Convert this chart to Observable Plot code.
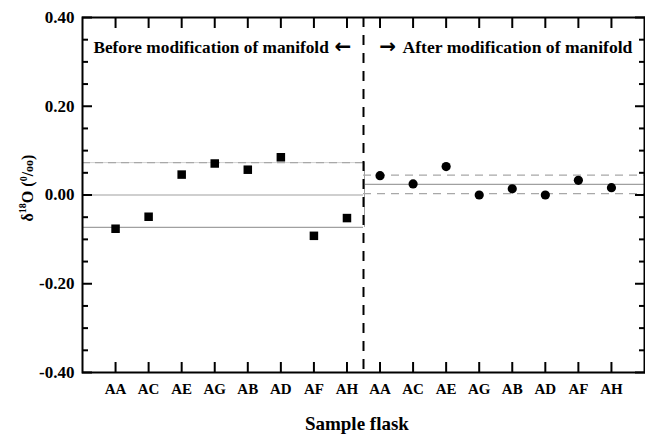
<!DOCTYPE html>
<html>
<head>
<meta charset="utf-8">
<script src="https://cdn.jsdelivr.net/npm/d3@7"></script>
<script src="https://cdn.jsdelivr.net/npm/@observablehq/plot@0.6"></script>
<style>
  html, body { margin: 0; padding: 0; background: white; }
</style>
</head>
<body>
<div id="chart"></div>
<script>
// ---- data ----
const categories = ["AA", "AC", "AE", "AG", "AB", "AD", "AF", "AH"];
const beforeValues = [-0.076, -0.049, 0.046, 0.071, 0.057, 0.085, -0.092, -0.052];
const afterValues = [0.0435, 0.025, 0.064, 0.000, 0.014, 0.000, 0.033, 0.0165];
const beforeStats = [0.000, 0.073];   // mean, sd
const afterStats = [0.024, 0.021];    // mean, sd
const yMajorTicks = [-0.4, -0.2, 0, 0.2, 0.4];
const yMinorTicks = [-0.35, -0.3, -0.25, -0.15, -0.1, -0.05, 0.05, 0.1, 0.15, 0.25, 0.3, 0.35];
const beforeLabel = "Before modification of manifold";
const afterLabel = "After modification of manifold";
const arrows = ["\u2190", "\u2192"];
const xLabel = "Sample flask";

// ---- table built from the arrays ----
const nB = categories.length;
const beforeData = beforeValues.map((v, i) => ({pos: i, cat: categories[i], value: v}));
const afterData = afterValues.map((v, i) => ({pos: nB + i, cat: categories[i], value: v}));
const allCats = categories.concat(categories);
const xPositions = d3.range(allCats.length);
const split = nB - 0.5;
const xMin = -1, xMax = 2 * nB;

const font = "Liberation Serif, Times New Roman, serif";
const arrowFont = "DejaVu Sans, sans-serif";

const chart = Plot.plot({
  width: 645,
  height: 436,
  marginLeft: 82,
  marginTop: 17,
  marginRight: 1,
  marginBottom: 64,
  x: {domain: [xMin, xMax], axis: null},
  y: {domain: [-0.4, 0.4], axis: null},
  style: {fontFamily: font, fontWeight: "bold", color: "black", background: "white"},
  marks: [
    // before mean and +/- sd lines
    Plot.ruleY([beforeStats[0]], {x1: xMin, x2: split, stroke: "#a0a0a0", strokeWidth: 1.2}),
    Plot.ruleY([beforeStats[0] + beforeStats[1]], {x1: xMin, x2: split, stroke: "#d0d0d0", strokeWidth: 1}),
    Plot.ruleY([beforeStats[0] + beforeStats[1]], {x1: xMin, x2: split, stroke: "#a8a8a8", strokeWidth: 1.2, strokeDasharray: "8,5"}),
    Plot.ruleY([beforeStats[0] - beforeStats[1]], {x1: xMin, x2: split, stroke: "#a0a0a0", strokeWidth: 1.2}),
    Plot.ruleX([split], {y1: beforeStats[0] - beforeStats[1], y2: beforeStats[0] + beforeStats[1], stroke: "#a0a0a0", strokeWidth: 1, dx: 1}),
    // after mean and +/- sd lines
    Plot.ruleY([afterStats[0]], {x1: split, x2: xMax, stroke: "#a0a0a0", strokeWidth: 1.2}),
    Plot.ruleY([afterStats[0] + afterStats[1], afterStats[0] - afterStats[1]], {x1: split, x2: xMax, stroke: "#a8a8a8", strokeWidth: 1.2, strokeDasharray: "8,6"}),
    // split line
    Plot.ruleX([split], {stroke: "black", strokeWidth: 2, strokeDasharray: "10,8"}),
    // y ticks left and right (inward)
    Plot.axisY(yMajorTicks, {anchor: "left", label: null, tickSize: -10, tickFormat: () => "", strokeWidth: 2}),
    Plot.axisY(yMinorTicks, {anchor: "left", label: null, tickSize: -6, tickFormat: () => "", strokeWidth: 2}),
    Plot.axisY(yMajorTicks, {anchor: "right", label: null, tickSize: -10, tickFormat: () => "", strokeWidth: 2}),
    Plot.axisY(yMinorTicks, {anchor: "right", label: null, tickSize: -6, tickFormat: () => "", strokeWidth: 2}),
    Plot.axisY(yMajorTicks, {anchor: "left", label: null, tickSize: 0, tickPadding: 8, tickFormat: d => d.toFixed(2), fontSize: 17, fontWeight: "bold"}),
    // x ticks bottom and top (inward)
    Plot.axisX(xPositions, {anchor: "bottom", label: null, tickSize: -10, tickFormat: () => "", strokeWidth: 2}),
    Plot.axisX(xPositions, {anchor: "top", label: null, tickSize: -10, tickFormat: () => "", strokeWidth: 2}),
    Plot.axisX(xPositions, {anchor: "bottom", label: null, tickSize: 0, tickPadding: 11, tickFormat: i => allCats[i], fontSize: 15, fontWeight: "bold"}),
    // frame
    Plot.frame({stroke: "black", strokeWidth: 2}),
    // points
    Plot.dot(beforeData, {x: "pos", y: "value", symbol: "square", r: 4.8, fill: "black", stroke: "none"}),
    Plot.dot(afterData, {x: "pos", y: "value", symbol: "circle", r: 4.6, fill: "black", stroke: "none"}),
    // annotations
    Plot.text([beforeLabel], {x: -0.67, y: 0.333, text: d => d, textAnchor: "start", fontSize: 17.3, fontWeight: "bold"}),
    Plot.text([afterLabel], {x: 8.68, y: 0.333, text: d => d, textAnchor: "start", fontSize: 17.6, fontWeight: "bold"}),
    Plot.text([arrows[0]], {x: 6.62, y: 0.335, text: d => d, textAnchor: "start", fontSize: 20, fontWeight: "bold", fontFamily: arrowFont}),
    Plot.text([arrows[1]], {x: 7.98, y: 0.335, text: d => d, textAnchor: "start", fontSize: 20, fontWeight: "bold", fontFamily: arrowFont}),
    Plot.text([xLabel], {frameAnchor: "bottom", x: 7.3, text: d => d, dy: 57, fontSize: 19, fontWeight: "bold"})
  ]
});

// y-axis label with superscripts
const svg = d3.select(chart);
const t = svg.append("text")
  .attr("transform", "translate(33,188) rotate(-90)")
  .attr("text-anchor", "middle")
  .attr("font-family", font)
  .attr("font-weight", "bold")
  .attr("font-size", 16)
  .attr("fill", "black");
t.append("tspan").text("\u03B4");
t.append("tspan").attr("font-size", 10).attr("dy", -7).text("18");
t.append("tspan").attr("dy", 7).text("O (");
t.append("tspan").attr("font-size", 10).attr("dy", -6).text("0");
t.append("tspan").attr("dy", 6).text("/");
t.append("tspan").attr("font-size", 12).text("oo");
t.append("tspan").text(")");

document.getElementById("chart").appendChild(chart);
</script>
</body>
</html>
